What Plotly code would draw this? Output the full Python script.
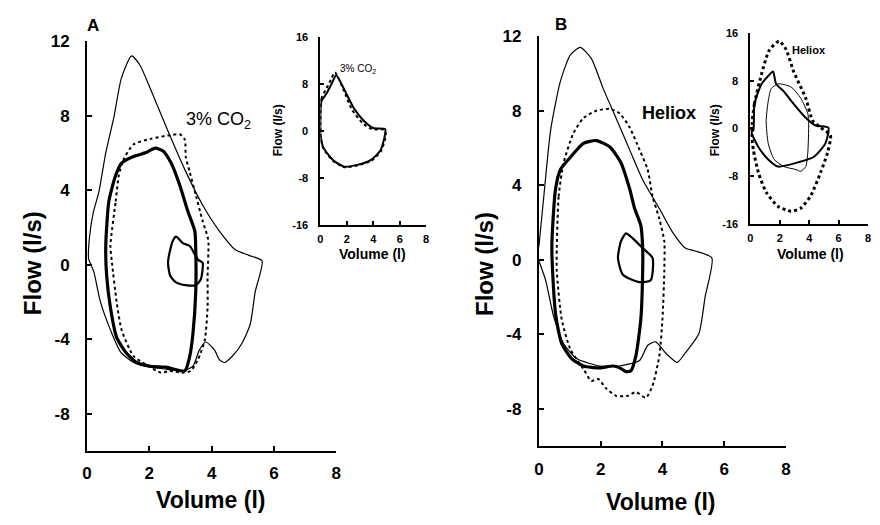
import plotly.graph_objects as go

# ---------------- Panel A main (volume l, flow l/s) ----------------
a_max_v = [0.05, 0.08, 0.2, 0.38, 0.6, 0.86, 1.1, 1.43, 1.7, 2.03, 2.54, 3.14, 3.71, 4.25, 4.76, 5.2, 5.62,
           5.4, 5.24, 4.98, 4.67, 4.41, 4.25, 4.1, 3.81, 3.6, 3.4, 3.08, 2.5, 2.03, 1.49, 1.08, 0.75, 0.43, 0.22, 0.1, 0.05]
a_max_f = [0.3, 1.5, 2.8, 3.9, 6.0, 7.9, 10.0, 11.2, 10.7, 9.45, 7.4, 5.1, 3.2, 1.8, 0.8, 0.5, 0.2,
           -1.45, -3.2, -4.2, -4.9, -5.25, -5.1, -4.6, -4.15, -4.6, -5.45, -5.7, -5.6, -5.5, -5.25, -4.7, -3.5, -2.0, -0.4, 0.1, 0.3]

a_ex_v = [0.6, 0.7, 0.92, 1.11, 1.49, 1.87, 2.19, 2.44, 2.7, 2.98, 3.24, 3.46, 3.49, 3.49, 3.4, 3.3, 3.14,
          2.54, 2.03, 1.59, 1.24, 0.95, 0.75, 0.63, 0.6]
a_ex_f = [1.0, 3.4, 4.8, 5.45, 5.8, 6.0, 6.25, 6.1, 5.45, 4.25, 2.85, 1.8, 0.8, -1.45, -3.7, -4.9, -5.7,
          -5.5, -5.45, -5.25, -4.7, -3.9, -2.3, -0.6, 1.0]

a_rest_v = [2.76, 2.86, 3.08, 3.3, 3.56, 3.71, 3.65, 3.49, 3.17, 2.86, 2.67, 2.6, 2.67, 2.76]
a_rest_f = [1.3, 1.5, 1.15, 1.0, 0.27, 0.1, -0.8, -1.1, -1.1, -0.95, -0.6, 0.1, 0.8, 1.3]

a_co2_v = [0.75, 0.92, 1.02, 1.17, 1.49, 2.03, 2.67, 2.98, 3.14, 3.17, 3.3, 3.49, 3.71, 3.87, 3.9, 3.87, 3.87,
           3.78, 3.56, 3.33, 3.08, 2.67, 2.38, 2.03, 1.49, 1.11, 0.95, 0.8, 0.75]
a_co2_f = [1.0, 3.4, 4.8, 5.65, 6.45, 6.75, 6.95, 7.0, 6.7, 5.8, 4.95, 3.75, 2.35, 1.5, 1.15, -0.6, -2.3,
           -4.05, -5.1, -5.7, -5.8, -5.7, -5.8, -5.5, -4.9, -3.5, -2.0, 0.1, 1.0]

# ---------------- Panel A inset ----------------
ai_ctl_v = [0.0, 0.07, 0.5, 0.9, 1.2, 1.8, 2.55, 3.3, 4.0, 4.9, 4.9, 4.55, 3.8, 2.8, 1.8, 0.97, 0.22, 0.0, 0.0]
ai_ctl_f = [0.0, 5.0, 6.5, 8.3, 9.5, 7.1, 3.8, 1.7, 0.5, 0.3, -0.5, -3.3, -5.0, -5.8, -6.1, -5.0, -2.8, -0.5, 0.0]
ai_co2_v = [0.0, 0.07, 0.45, 0.85, 1.1, 1.7, 2.4, 3.2, 3.9, 4.8, 4.95, 4.6, 3.85, 2.8, 1.8, 0.95, 0.2, 0.0, 0.0]
ai_co2_f = [0.0, 5.5, 7.2, 9.0, 10.0, 7.3, 3.6, 1.3, 0.3, 0.2, -0.6, -3.4, -5.1, -5.9, -6.2, -5.1, -2.9, -0.6, 0.0]

# ---------------- Panel B main ----------------
b_max_v = [0.0, 0.16, 0.38, 0.7, 1.02, 1.34, 1.7, 2.08, 2.5, 2.94, 3.36, 3.9, 4.32, 4.74, 5.06, 5.6,
           5.38, 5.18, 4.74, 4.48, 4.1, 3.78, 3.52, 3.26, 2.6, 1.98, 1.22, 0.8, 0.48, 0.22, 0.0]
b_max_f = [0.7, 3.4, 6.95, 9.6, 11.0, 11.4, 10.8, 9.2, 7.6, 5.9, 4.3, 2.75, 1.5, 0.63, 0.47, 0.1,
           -2.0, -3.95, -5.0, -5.5, -5.0, -4.4, -4.6, -5.4, -5.7, -5.7, -5.3, -4.5, -3.05, -1.1, -0.05]

b_ex_v = [0.42, 0.54, 0.7, 1.02, 1.44, 1.86, 2.3, 2.66, 2.94, 3.1, 3.3, 3.36, 3.36, 3.3, 3.14, 2.98, 2.82,
          2.62, 2.4, 1.98, 1.44, 1.06, 0.74, 0.54, 0.42]
b_ex_f = [0.63, 3.8, 4.85, 5.5, 6.25, 6.4, 6.05, 5.2, 3.8, 2.75, 1.85, 0.63, -0.6, -3.2, -5.15, -5.95, -6.0,
          -5.8, -5.7, -5.8, -5.7, -5.3, -4.5, -2.9, 0.63]

b_rest_v = [2.66, 2.82, 3.04, 3.36, 3.68, 3.62, 3.26, 2.72, 2.56, 2.66]
b_rest_f = [1.0, 1.42, 1.15, 0.63, 0.1, -1.1, -1.2, -0.8, 0.1, 1.0]

b_hel_v = [0.58, 0.64, 0.8, 1.12, 1.44, 1.86, 2.3, 2.62, 2.94, 3.26, 3.52, 3.68, 3.9, 4.06, 4.06, 4.0, 3.9,
           3.68, 3.46, 3.14, 2.88, 2.5, 2.18, 1.92, 1.7, 1.44, 1.02, 0.74, 0.58, 0.58]
b_hel_f = [0.63, 3.4, 5.2, 6.8, 7.6, 8.0, 8.1, 7.85, 7.1, 5.9, 4.85, 3.4, 2.2, 1.0, -0.6, -3.2, -5.15,
           -6.75, -7.4, -7.1, -7.3, -7.3, -6.9, -6.4, -6.5, -5.85, -4.8, -3.2, -0.6, 0.63]

# ---------------- Panel B inset ----------------
bi_hel_v = [0.07, 0.27, 0.74, 1.27, 1.95, 2.42, 2.95, 3.76, 4.23, 4.77, 5.44, 5.24, 4.77, 4.1, 3.42, 2.75,
            1.88, 1.07, 0.54, 0.2, 0.07]
bi_hel_f = [-0.3, 4.1, 9.0, 13.1, 14.7, 13.3, 9.5, 5.1, 1.3, 0.16, -1.15, -4.1, -7.4, -11.3, -13.4, -13.9,
            -13.1, -10.7, -7.4, -3.6, -0.3]
bi_ctl_v = [0.2, 0.27, 0.74, 1.27, 1.54, 1.74, 2.28, 2.95, 3.76, 4.43, 5.3, 5.1, 4.3, 3.22, 1.88, 1.21,
            0.54, 0.07, 0.2]
bi_ctl_f = [-0.3, 4.1, 7.4, 9.0, 9.6, 7.5, 6.2, 4.1, 1.8, 0.5, 0.16, -2.5, -4.8, -5.7, -6.4, -5.2,
            -3.1, -0.6, -0.3]
bi_in_v = [1.88, 2.75, 3.42, 3.9, 3.96, 3.9, 3.76, 3.42, 3.1, 2.28, 1.61, 1.21, 1.07, 1.21, 1.41, 1.88]
bi_in_f = [7.5, 7.0, 5.1, 2.5, 0.8, -4.1, -6.4, -7.2, -6.9, -6.4, -5.2, -2.5, 1.3, 4.6, 6.7, 7.5]

main_yticks = [-8, -4, 0, 4, 8, 12]
main_xticks = [0, 2, 4, 6, 8]
inset_yticks = [-16, -8, 0, 8, 16]
inset_xticks = [0, 2, 4, 6, 8]

FONT = "Liberation Sans"
fig = go.Figure()


def add(v, f, xa, ya, width, dash="solid"):
    fig.add_trace(go.Scatter(x=v, y=f, xaxis=xa, yaxis=ya, mode="lines",
                             line=dict(color="black", width=width, dash=dash, shape="spline", smoothing=0.6),
                             showlegend=False, hoverinfo="skip"))


add(a_max_v, a_max_f, "x", "y", 1.2)
add(a_co2_v, a_co2_f, "x", "y", 2, "dot")
add(a_ex_v, a_ex_f, "x", "y", 3.2)
add(a_rest_v, a_rest_f, "x", "y", 2.2)

add(ai_co2_v, ai_co2_f, "x2", "y2", 2, "dot")
add(ai_ctl_v, ai_ctl_f, "x2", "y2", 2)

add(b_max_v, b_max_f, "x3", "y3", 1.2)
add(b_hel_v, b_hel_f, "x3", "y3", 2, "dot")
add(b_ex_v, b_ex_f, "x3", "y3", 3.2)
add(b_rest_v, b_rest_f, "x3", "y3", 2.2)

add(bi_hel_v, bi_hel_f, "x4", "y4", 3, "dot")
add(bi_ctl_v, bi_ctl_f, "x4", "y4", 2)
add(bi_in_v, bi_in_f, "x4", "y4", 1)


def axis(domain, rng, ticks, anchor, size, standoff, tl=5):
    return dict(domain=domain, range=rng, tickvals=ticks, ticktext=[str(t) for t in ticks],
                anchor=anchor, showline=True, linecolor="black", linewidth=2,
                ticks="inside", ticklen=tl, tickwidth=2, tickcolor="black",
                showgrid=False, zeroline=False, ticklabelstandoff=standoff,
                tickfont=dict(family=FONT, size=size, color="black", weight="bold"))


W, H = 880, 525
def dx(a, b): return [a / W, b / W]
def dy(top, bot): return [1 - bot / H, 1 - top / H]

fig.update_layout(
    width=W, height=H, margin=dict(l=0, r=0, t=0, b=0),
    plot_bgcolor="white", paper_bgcolor="white",
    xaxis=axis(dx(83, 335), [0, 8], main_xticks, "y", 17, 6),
    yaxis=axis(dy(33, 455), [-10, 12], main_yticks, "x", 17, 12),
    xaxis2=axis(dx(319, 426), [0, 8], inset_xticks, "y2", 11, 3, 4),
    yaxis2=axis(dy(29, 222), [-16, 16], inset_yticks, "x2", 11, 8, 4),
    xaxis3=axis(dx(540, 790), [0, 8], main_xticks, "y3", 17, 6),
    yaxis3=axis(dy(28, 450), [-10, 12], main_yticks, "x3", 17, 12),
    xaxis4=axis(dx(754, 873), [0, 8], inset_xticks, "y4", 11, 3, 4),
    yaxis4=axis(dy(25, 221), [-16, 16], inset_yticks, "x4", 11, 8, 4),
)


def note(text, x, y, size, angle=0, bold=True):
    fig.add_annotation(text=text, x=x / W, y=1 - y / H, xref="paper", yref="paper",
                       showarrow=False, textangle=angle, xanchor="center", yanchor="middle",
                       font=dict(family=FONT, size=size, color="black",
                                 weight="bold" if bold else "normal"))


note("A", 89, 17, 17)
note("B", 562, 16, 17)
note("Flow (l/s)", 28, 262, 24, -90)
note("Volume (l)", 208, 505, 23)
note("Flow (l/s)", 485, 262, 24, -90)
note("Volume (l)", 663, 508, 23)
note("Flow (l/s)", 277, 125, 12, -90)
note("Volume (l)", 372, 252, 14)
note("Flow (l/s)", 719, 125, 12, -90)
note("Volume (l)", 815, 252, 14)
note("3% CO<sub>2</sub>", 216, 115, 18, bold=False)
note("3% CO<sub>2</sub>", 357, 62, 10, bold=False)
note("Heliox", 672, 107, 18)
note("Heliox", 813, 42, 11)

fig.write_html("out.html")
